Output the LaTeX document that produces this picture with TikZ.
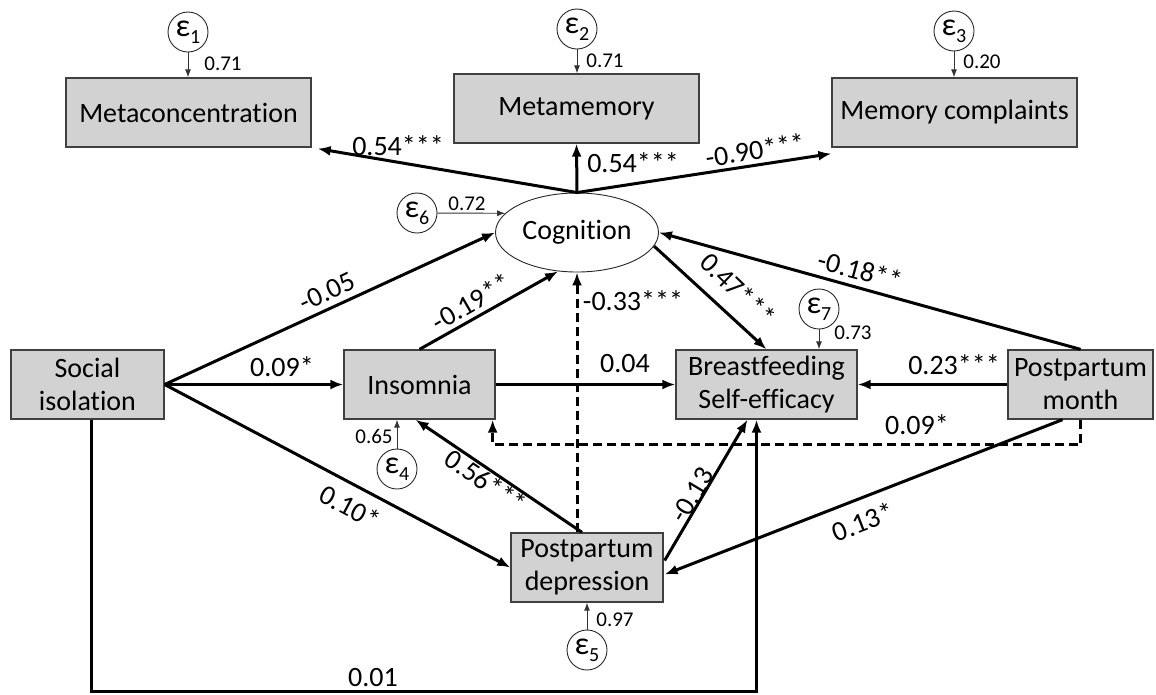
\documentclass[tikz,border=0pt]{standalone}
\usepackage{fontspec}
\setmainfont{Carlito}[Ligatures={NoCommon}]
\usetikzlibrary{shapes.geometric,arrows.meta,calc}
\definecolor{boxfill}{RGB}{210,210,210}
\definecolor{boxline}{RGB}{64,64,64}
\newcommand{\epsi}[1]{{\fontsize{32}{32}\selectfont ε}\raisebox{-7pt}{\fontsize{20}{20}\selectfont #1}}
\begin{document}
\begin{tikzpicture}[x=1pt,y=-1pt,
  box/.style={draw=boxline, fill=boxfill, line width=1.3pt, minimum height=69pt, inner sep=0pt, align=center, font=\fontsize{28}{33}\selectfont},
  err/.style={draw=black!85, circle, minimum size=40pt, inner sep=0pt, line width=0.9pt},
  big/.style={line width=3pt, -{Latex[length=13pt,width=10pt]}},
  bigdash/.style={big, dash pattern=on 9pt off 5pt},
  thinarr/.style={line width=0.9pt, draw=black!80, -{Latex[length=8pt,width=6pt]}},
  lab/.style={font=\fontsize{28}{30}\selectfont, inner sep=0pt},
  slab/.style={font=\fontsize{21}{22}\selectfont, inner sep=0pt},
]
\useasboundingbox (0,0) rectangle (1156,694);

% boxes
\node[box, minimum width=245pt] (mc) at (188.5,112.5) {Metaconcentration};
\node[box, minimum width=245pt] (mm) at (576.5,108.5) {Metamemory};
\node[box, minimum width=245pt] (mcomp) at (954.5,112.5) {Memory complaints};
\node[box, minimum width=153pt] (si) at (87.5,384.5) {Social\\isolation};
\node[box, minimum width=151pt] (ins) at (419.5,384.5) {Insomnia};
\node[box, minimum width=181pt] (bf) at (766.5,384.5) {Breastfeeding\\Self-efficacy};
\node[box, minimum width=145pt] (pm) at (1080.5,384.5) {Postpartum\\month};
\node[box, minimum width=152pt] (pd) at (587,567.5) {Postpartum\\depression};
\node[draw=black!85, ellipse, minimum width=163pt, minimum height=79pt, inner sep=0pt, line width=0.9pt, font=\fontsize{28}{30}\selectfont] (cog) at (577,232.5) {Cognition};

% error terms
\node[err] (e1) at (188,32) {\epsi{1}};
\node[err] (e2) at (577,29) {\epsi{2}};
\node[err] (e3) at (954,31) {\epsi{3}};
\node[err] (e6) at (417,213) {\epsi{6}};
\node[err] (e7) at (819,309) {\epsi{7}};
\node[err] (e4) at (397,469) {\epsi{4}};
\node[err] (e5) at (587,650) {\epsi{5}};

\draw[thinarr] (e1) -- (mc.north -| e1);
\draw[thinarr] (e2) -- (mm.north -| e2);
\draw[thinarr] (e3) -- (mcomp.north -| e3);
\draw[thinarr] (e6) -- (cog.165);
\draw[thinarr] (e7) -- (bf.north -| e7);
\draw[thinarr] (e4) -- (ins.south -| e4);
\draw[thinarr] (e5) -- (pd.south -| e5);

% paths
\draw[big] (cog.north) -- ($(mc.south east)+(6,1)$);
\draw[big] (cog.north) -- (mm.south);
\draw[big] (cog.north) -- ($(mcomp.south west)+(0,6)$);
\draw[big] (si.east) -- (cog.west);
\draw[big] (si.east) -- (ins.west);
\draw[big] (si.east) -- (pd.west);
\draw[big] (ins.north) -- (cog.-116);
\draw[bigdash] (pd.north -| cog.south) -- (cog.south);
\draw[big] ($(pd.north)+(-5,0)$) -- ($(ins.south)+(-4,0)$);
\draw[big] (cog.-10) -- (bf.north);
\draw[big] (pm.north) -- (cog.east);
\draw[big] (pm.west) -- (bf.east);
\draw[big] (ins.east) -- (bf.west);
\draw[big] ($(pd.east)+(1,-7)$) -- ($(bf.south)+(-19,0)$);
\draw[big] ($(pm.south)+(-18,0)$) -- ($(pd.east)+(1,7)$);
\draw[bigdash] (pm.south) -- ++(0,25) -| ($(ins.south east)+(-3,0)$);
\draw[big] ($(si.south)+(4,0)$) -- ++(0,272) -| ($(bf.south)+(-10,0)$);

% labels
\node[slab] (v1) at (223,64) {0.71};
\node[slab] (v2) at (605,61) {0.71};
\node[slab] (v3) at (982,62) {0.20};
\node[lab] (l1) at (398,146) {0.54***};
\node[lab] (l2) at (633,163) {0.54***};
\node[lab, rotate=9] (l3) at (755,150) {-0.90***};
\node[slab] (l4) at (467,204) {0.72};
\node[lab, rotate=25] (l5) at (327,292) {-0.05};
\node[lab] (l6) at (282,367) {0.09*};
\node[lab, rotate=30] (l7) at (471,302) {-0.19**};
\node[lab] (l8) at (633,301) {-0.33***};
\node[lab, rotate=-44] (l9) at (738,289) {0.47***};
\node[lab, rotate=-15] (l10) at (860,270) {-0.18**};
\node[slab] (l11) at (853,333) {0.73};
\node[lab] (l12) at (625,364) {0.04};
\node[lab] (l13) at (954,365) {0.23***};
\node[lab] (l14) at (917,425) {0.09*};
\node[slab] (l15) at (374,436) {0.65};
\node[lab, rotate=-34] (l16) at (486,481) {0.56***};
\node[lab, rotate=-28] (l17) at (350,507) {0.10*};
\node[lab, rotate=59] (l18) at (692,495) {-0.13};
\node[lab, rotate=21] (l19) at (863,522) {0.13*};
\node[slab] (l20) at (615,620) {0.97};
\node[lab] (l21) at (373,678) {0.01};
\end{tikzpicture}
\end{document}
